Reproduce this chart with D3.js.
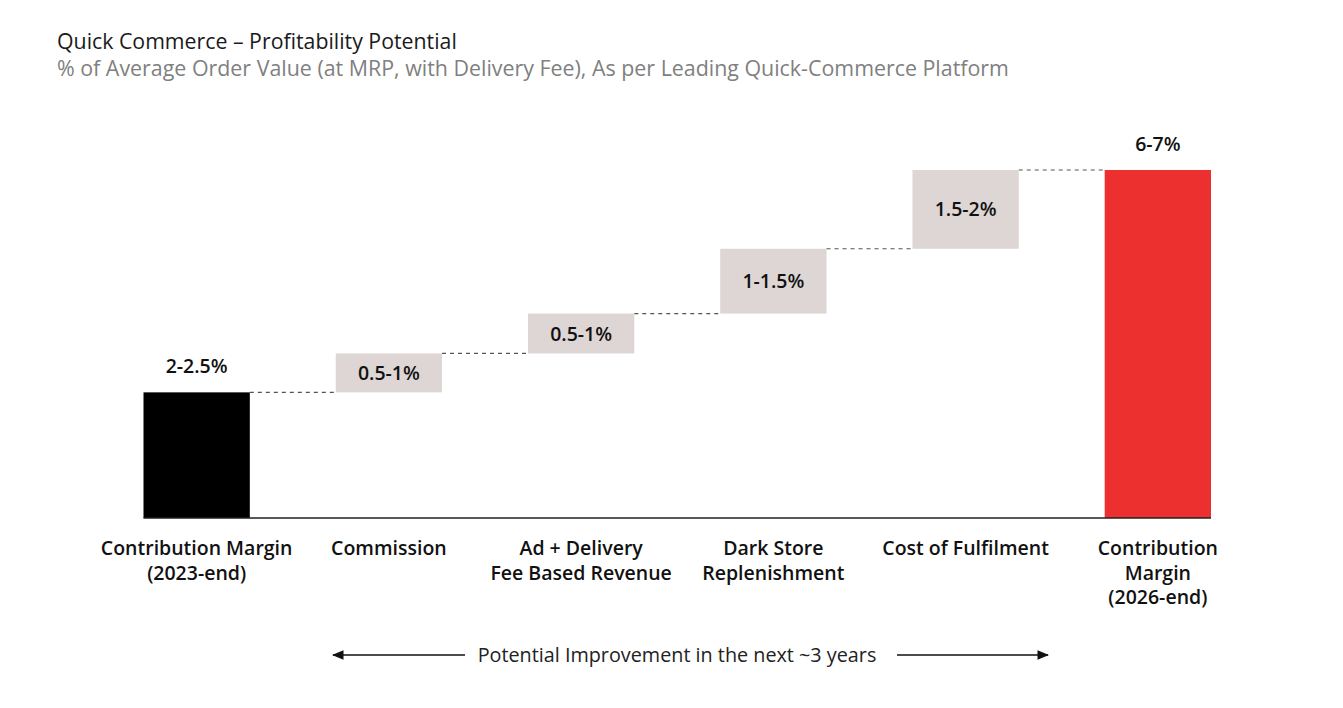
<!DOCTYPE html>
<html><head><meta charset="utf-8">
<script src="https://cdn.jsdelivr.net/npm/d3@7"></script>
<style>
body{margin:0;background:#fff;}
svg{display:block;font-family:"Open Sans", Lato, sans-serif;}
</style></head>
<body>
<svg id="chart" width="1343" height="708"></svg>
<script>
const categories = [["Contribution Margin","(2023-end)"],["Commission"],["Ad + Delivery","Fee Based Revenue"],["Dark Store","Replenishment"],["Cost of Fulfilment"],["Contribution","Margin","(2026-end)"]];
const kinds = ["start","delta","delta","delta","delta","end"];
const values = [2.52, 0.78, 0.8, 1.3, 1.58, 6.98];
const valueLabels = ["2-2.5%","0.5-1%","0.5-1%","1-1.5%","1.5-2%","6-7%"];
const colors = {start:"#000000", delta:"#ddd6d4", end:"#ec2f2f"};

const svg = d3.select("#chart");
const keys = categories.map((c,i)=>i);
const x = d3.scaleBand().domain(keys).range([143.5, 143.5 + 6*192.3 - 86.3]).paddingInner(0.447).paddingOuter(0);
const y = d3.scaleLinear().domain([0,7]).range([518,169]);

let cum = 0;
const bars = values.map((v,i)=>{
  let b0,b1;
  if(kinds[i]==="start"){b0=0;b1=v;cum=v;}
  else if(kinds[i]==="delta"){b0=cum;b1=cum+v;cum=b1;}
  else {b0=0;b1=v;}
  return {i,b0,b1,kind:kinds[i],label:valueLabels[i]};
});

svg.append("text").attr("x",57).attr("y",49).attr("font-size",21.3).attr("fill","#1a1a1a").text("Quick Commerce – Profitability Potential");
svg.append("text").attr("x",57).attr("y",76).attr("font-size",21.4).attr("fill","#808080").text("% of Average Order Value (at MRP, with Delivery Fee), As per Leading Quick-Commerce Platform");

for(let k=0;k<bars.length-1;k++){
  const a=bars[k], b=bars[k+1];
  const yy = y(a.b1);
  svg.append("line").attr("x1",x(a.i)+x.bandwidth()).attr("x2",x(b.i)).attr("y1",yy).attr("y2",yy)
    .attr("stroke","#555").attr("stroke-width",1.2).attr("stroke-dasharray","4,4");
}

svg.selectAll("rect.bar").data(bars).enter().append("rect")
  .attr("x",d=>x(d.i)).attr("width",x.bandwidth())
  .attr("y",d=>y(d.b1)).attr("height",d=>y(d.b0)-y(d.b1))
  .attr("fill",d=>colors[d.kind]);

svg.selectAll("text.val").data(bars).enter().append("text")
  .attr("x",d=>x(d.i)+x.bandwidth()/2)
  .attr("y",d=> d.kind==="delta" ? (y(d.b0)+y(d.b1))/2 + 7 : y(d.b1)-19)
  .attr("text-anchor","middle").attr("font-size",19.5).attr("font-weight",600).attr("fill","#111")
  .text(d=>d.label);

svg.append("line").attr("x1",x(0)).attr("x2",x(5)+x.bandwidth()).attr("y1",y(0)).attr("y2",y(0)).attr("stroke","#222").attr("stroke-width",1.5);

categories.forEach((lines,i)=>{
  const t = svg.append("text").attr("text-anchor","middle").attr("font-size",19.5).attr("font-weight",600).attr("fill","#111");
  lines.forEach((ln,j)=>{
    t.append("tspan").attr("x",x(i)+x.bandwidth()/2).attr("y",555+j*24.5).text(ln);
  });
});

const defs = svg.append("defs");
defs.append("marker").attr("id","ah").attr("viewBox","0 0 10 10").attr("refX",9).attr("refY",5)
  .attr("markerWidth",9).attr("markerHeight",9).attr("orient","auto-start-reverse")
  .append("path").attr("d","M0,1 L10,5 L0,9 Z").attr("fill","#111");
const ay = 655;
svg.append("line").attr("x1",465).attr("x2",333).attr("y1",ay).attr("y2",ay).attr("stroke","#111").attr("stroke-width",1.3).attr("marker-end","url(#ah)");
svg.append("line").attr("x1",897).attr("x2",1048).attr("y1",ay).attr("y2",ay).attr("stroke","#111").attr("stroke-width",1.3).attr("marker-end","url(#ah)");
svg.append("text").attr("x",677).attr("y",ay+7).attr("text-anchor","middle").attr("font-size",19.8).attr("fill","#222").text("Potential Improvement in the next ~3 years");
</script>
</body></html>
